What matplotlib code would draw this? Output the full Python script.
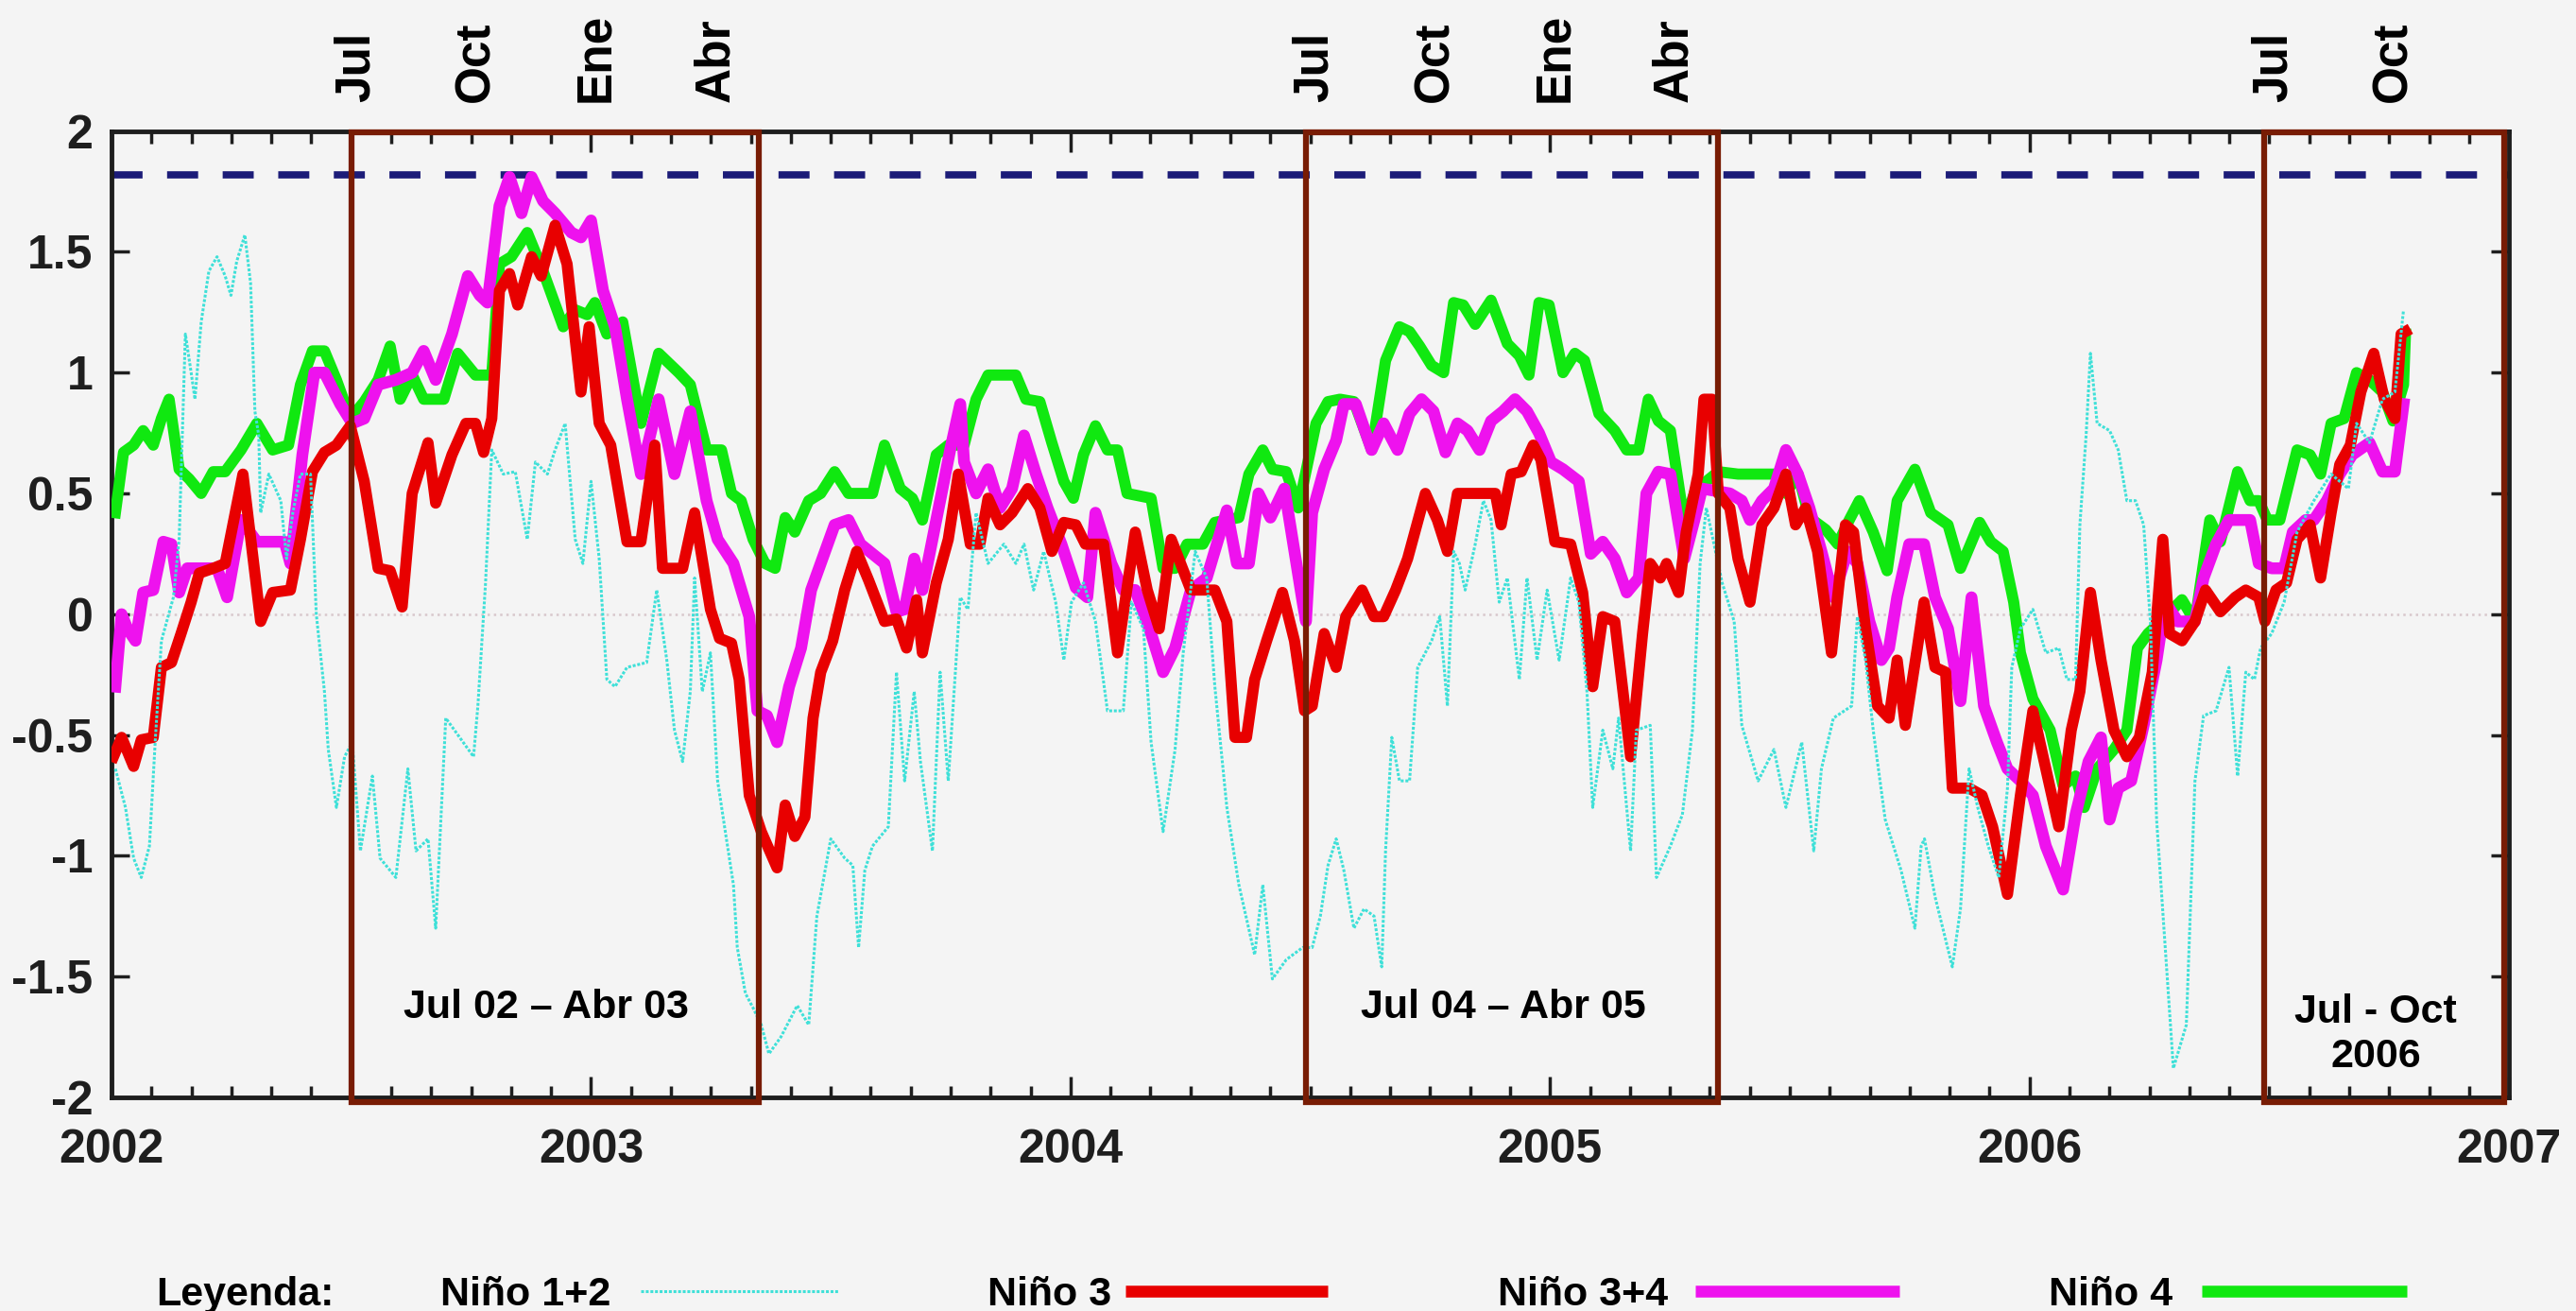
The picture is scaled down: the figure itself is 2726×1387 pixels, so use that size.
import numpy as np
import matplotlib.pyplot as plt
from matplotlib.patches import Rectangle
from matplotlib.lines import Line2D

plt.rcParams['font.family'] = ['Liberation Sans', 'DejaVu Sans']
plt.rcParams['axes.unicode_minus'] = False

# (decimal year, anomaly)
nino12 = [
    (2002.008, -0.64), (2002.029, -0.80), (2002.046, -1.01), (2002.062, -1.09), (2002.079, -0.96),
    (2002.091, -0.53), (2002.104, -0.11), (2002.129, 0.07), (2002.141, 0.31), (2002.154, 1.16),
    (2002.166, 1.00), (2002.174, 0.89), (2002.187, 1.21), (2002.203, 1.42), (2002.220, 1.48),
    (2002.237, 1.40), (2002.249, 1.32), (2002.261, 1.46), (2002.278, 1.57), (2002.290, 1.37),
    (2002.299, 0.84), (2002.307, 0.74), (2002.311, 0.42), (2002.328, 0.58), (2002.353, 0.47),
    (2002.365, 0.23), (2002.378, 0.42), (2002.394, 0.58), (2002.415, 0.58), (2002.427, 0.00),
    (2002.444, -0.32), (2002.452, -0.56), (2002.469, -0.80), (2002.486, -0.59), (2002.502, -0.53),
    (2002.519, -0.98), (2002.544, -0.67), (2002.560, -1.01), (2002.593, -1.09), (2002.618, -0.64),
    (2002.635, -0.98), (2002.660, -0.93), (2002.676, -1.30), (2002.697, -0.43), (2002.726, -0.51),
    (2002.755, -0.59), (2002.764, -0.38), (2002.780, 0.13), (2002.793, 0.68), (2002.817, 0.58),
    (2002.842, 0.59), (2002.867, 0.31), (2002.884, 0.63), (2002.909, 0.58), (2002.925, 0.68),
    (2002.946, 0.79), (2002.967, 0.31), (2002.983, 0.21), (2003.000, 0.55), (2003.017, 0.23),
    (2003.033, -0.27), (2003.050, -0.30), (2003.075, -0.22), (2003.116, -0.20), (2003.137, 0.10),
    (2003.158, -0.19), (2003.174, -0.48), (2003.191, -0.61), (2003.207, -0.32), (2003.216, 0.15),
    (2003.232, -0.32), (2003.249, -0.16), (2003.264, -0.69), (2003.280, -0.90), (2003.297, -1.12),
    (2003.305, -1.38), (2003.322, -1.57), (2003.338, -1.63), (2003.355, -1.70), (2003.371, -1.82),
    (2003.396, -1.75), (2003.430, -1.62), (2003.454, -1.70), (2003.471, -1.25), (2003.500, -0.93),
    (2003.529, -1.01), (2003.546, -1.04), (2003.558, -1.38), (2003.571, -1.06), (2003.587, -0.96),
    (2003.620, -0.88), (2003.637, -0.24), (2003.654, -0.69), (2003.674, -0.32), (2003.687, -0.61),
    (2003.712, -0.98), (2003.728, -0.24), (2003.745, -0.69), (2003.770, 0.07), (2003.786, 0.02),
    (2003.803, 0.42), (2003.828, 0.21), (2003.861, 0.29), (2003.886, 0.21), (2003.903, 0.29),
    (2003.923, 0.10), (2003.944, 0.26), (2003.969, 0.05), (2003.986, -0.19), (2004.002, 0.05),
    (2004.027, 0.13), (2004.052, -0.03), (2004.077, -0.40), (2004.110, -0.40), (2004.127, 0.05),
    (2004.152, -0.06), (2004.168, -0.53), (2004.193, -0.90), (2004.218, -0.56), (2004.235, -0.16),
    (2004.260, 0.26), (2004.284, 0.15), (2004.301, -0.30), (2004.326, -0.80), (2004.351, -1.12),
    (2004.384, -1.41), (2004.401, -1.12), (2004.421, -1.51), (2004.450, -1.43), (2004.484, -1.38),
    (2004.504, -1.38), (2004.521, -1.25), (2004.537, -1.04), (2004.554, -0.93), (2004.570, -1.06),
    (2004.591, -1.30), (2004.612, -1.22), (2004.633, -1.25), (2004.649, -1.46), (2004.657, -0.98),
    (2004.670, -0.51), (2004.686, -0.69), (2004.707, -0.69), (2004.724, -0.22), (2004.753, -0.11),
    (2004.770, -0.01), (2004.786, -0.38), (2004.799, 0.26), (2004.811, 0.21), (2004.823, 0.10),
    (2004.844, 0.29), (2004.861, 0.47), (2004.877, 0.39), (2004.894, 0.05), (2004.911, 0.15),
    (2004.936, -0.27), (2004.952, 0.15), (2004.973, -0.19), (2004.994, 0.10), (2005.019, -0.19),
    (2005.043, 0.15), (2005.060, 0.05), (2005.077, -0.32), (2005.089, -0.80), (2005.110, -0.48),
    (2005.131, -0.64), (2005.143, -0.43), (2005.168, -0.98), (2005.180, -0.48), (2005.209, -0.46),
    (2005.222, -1.09), (2005.251, -0.96), (2005.276, -0.83), (2005.297, -0.48), (2005.313, 0.21),
    (2005.326, 0.44), (2005.359, 0.13), (2005.384, -0.03), (2005.400, -0.46), (2005.434, -0.69),
    (2005.467, -0.56), (2005.492, -0.80), (2005.525, -0.53), (2005.550, -0.98), (2005.566, -0.64),
    (2005.591, -0.43), (2005.629, -0.38), (2005.641, -0.01), (2005.658, -0.19), (2005.674, -0.48),
    (2005.699, -0.85), (2005.732, -1.06), (2005.761, -1.30), (2005.774, -0.96), (2005.781, -0.93),
    (2005.803, -1.17), (2005.839, -1.46), (2005.856, -1.22), (2005.874, -0.64), (2005.892, -0.80),
    (2005.914, -0.96), (2005.936, -1.09), (2005.954, -0.72), (2005.963, -0.22), (2005.981, -0.06),
    (2006.007, 0.02), (2006.034, -0.16), (2006.061, -0.14), (2006.078, -0.27), (2006.096, -0.27),
    (2006.105, 0.37), (2006.118, 0.74), (2006.127, 1.08), (2006.141, 0.79), (2006.167, 0.76),
    (2006.185, 0.68), (2006.203, 0.47), (2006.221, 0.47), (2006.238, 0.37), (2006.252, -0.03),
    (2006.265, -0.85), (2006.283, -1.38), (2006.300, -1.88), (2006.327, -1.70), (2006.345, -0.69),
    (2006.363, -0.42), (2006.389, -0.40), (2006.416, -0.22), (2006.434, -0.67), (2006.451, -0.24),
    (2006.469, -0.27), (2006.482, -0.14), (2006.505, -0.08), (2006.531, 0.05), (2006.558, 0.34),
    (2006.593, 0.47), (2006.629, 0.58), (2006.665, 0.52), (2006.682, 0.79), (2006.709, 0.71),
    (2006.736, 0.89), (2006.762, 0.92), (2006.780, 1.26),
]

nino3 = [
    (2002.004, -0.59), (2002.021, -0.51), (2002.046, -0.63), (2002.062, -0.52), (2002.087, -0.51),
    (2002.104, -0.22), (2002.125, -0.20), (2002.145, -0.08), (2002.166, 0.05), (2002.183, 0.17),
    (2002.212, 0.19), (2002.237, 0.21), (2002.274, 0.58), (2002.311, -0.03), (2002.336, 0.09),
    (2002.373, 0.10), (2002.394, 0.31), (2002.419, 0.59), (2002.444, 0.67), (2002.469, 0.70),
    (2002.498, 0.78), (2002.527, 0.55), (2002.556, 0.19), (2002.581, 0.18), (2002.606, 0.03),
    (2002.627, 0.50), (2002.660, 0.71), (2002.676, 0.46), (2002.710, 0.66), (2002.739, 0.79),
    (2002.759, 0.79), (2002.776, 0.67), (2002.793, 0.81), (2002.809, 1.34), (2002.830, 1.41),
    (2002.847, 1.28), (2002.876, 1.48), (2002.896, 1.40), (2002.925, 1.61), (2002.950, 1.45),
    (2002.979, 0.92), (2002.996, 1.19), (2003.017, 0.79), (2003.041, 0.70), (2003.075, 0.30),
    (2003.104, 0.30), (2003.133, 0.70), (2003.149, 0.19), (2003.191, 0.19), (2003.216, 0.42),
    (2003.249, 0.02), (2003.268, -0.10), (2003.293, -0.12), (2003.309, -0.27), (2003.330, -0.75),
    (2003.355, -0.90), (2003.388, -1.05), (2003.405, -0.79), (2003.425, -0.92), (2003.446, -0.84),
    (2003.463, -0.43), (2003.479, -0.24), (2003.504, -0.11), (2003.529, 0.10), (2003.554, 0.26),
    (2003.579, 0.14), (2003.612, -0.03), (2003.637, -0.02), (2003.658, -0.14), (2003.679, 0.06),
    (2003.691, -0.16), (2003.720, 0.13), (2003.745, 0.31), (2003.766, 0.58), (2003.791, 0.29),
    (2003.811, 0.29), (2003.828, 0.48), (2003.853, 0.37), (2003.878, 0.42), (2003.911, 0.52),
    (2003.936, 0.44), (2003.961, 0.26), (2003.986, 0.38), (2004.011, 0.37), (2004.031, 0.29),
    (2004.069, 0.29), (2004.098, -0.16), (2004.135, 0.34), (2004.160, 0.10), (2004.185, -0.06),
    (2004.210, 0.31), (2004.251, 0.10), (2004.301, 0.10), (2004.326, -0.03), (2004.343, -0.51),
    (2004.367, -0.51), (2004.384, -0.27), (2004.409, -0.11), (2004.442, 0.09), (2004.467, -0.11),
    (2004.488, -0.40), (2004.504, -0.38), (2004.529, -0.08), (2004.554, -0.22), (2004.574, -0.01),
    (2004.608, 0.10), (2004.633, -0.01), (2004.653, -0.01), (2004.678, 0.10), (2004.703, 0.23),
    (2004.740, 0.50), (2004.765, 0.39), (2004.786, 0.26), (2004.807, 0.50), (2004.886, 0.50),
    (2004.898, 0.37), (2004.919, 0.58), (2004.940, 0.59), (2004.965, 0.70), (2004.981, 0.64),
    (2005.010, 0.30), (2005.043, 0.29), (2005.068, 0.09), (2005.089, -0.30), (2005.110, -0.01),
    (2005.135, -0.03), (2005.168, -0.59), (2005.193, -0.08), (2005.209, 0.21), (2005.230, 0.15),
    (2005.243, 0.21), (2005.268, 0.09), (2005.284, 0.34), (2005.309, 0.58), (2005.321, 0.89),
    (2005.338, 0.89), (2005.351, 0.50), (2005.375, 0.44), (2005.392, 0.23), (2005.417, 0.05),
    (2005.442, 0.37), (2005.467, 0.44), (2005.492, 0.58), (2005.512, 0.37), (2005.533, 0.44),
    (2005.558, 0.26), (2005.587, -0.16), (2005.616, 0.37), (2005.633, 0.34), (2005.658, -0.06),
    (2005.683, -0.38), (2005.707, -0.43), (2005.724, -0.19), (2005.741, -0.46), (2005.766, -0.14),
    (2005.780, 0.05), (2005.803, -0.22), (2005.825, -0.24), (2005.839, -0.72), (2005.874, -0.72),
    (2005.901, -0.75), (2005.923, -0.88), (2005.954, -1.16), (2005.981, -0.75), (2006.007, -0.40),
    (2006.034, -0.64), (2006.061, -0.88), (2006.087, -0.48), (2006.105, -0.32), (2006.127, 0.09),
    (2006.149, -0.19), (2006.176, -0.48), (2006.203, -0.59), (2006.229, -0.51), (2006.256, -0.24),
    (2006.278, 0.31), (2006.292, -0.08), (2006.318, -0.11), (2006.345, -0.03), (2006.367, 0.10),
    (2006.398, 0.01), (2006.429, 0.07), (2006.451, 0.10), (2006.478, 0.07), (2006.491, -0.03),
    (2006.514, 0.10), (2006.536, 0.13), (2006.558, 0.31), (2006.585, 0.37), (2006.607, 0.15),
    (2006.629, 0.42), (2006.647, 0.62), (2006.669, 0.70), (2006.691, 0.92), (2006.718, 1.08),
    (2006.740, 0.89), (2006.762, 0.81), (2006.775, 1.16), (2006.784, 1.17),
]

nino34 = [
    (2002.008, -0.30), (2002.021, 0.00), (2002.033, -0.06), (2002.050, -0.11), (2002.066, 0.09),
    (2002.087, 0.10), (2002.108, 0.30), (2002.125, 0.29), (2002.141, 0.09), (2002.158, 0.19),
    (2002.220, 0.19), (2002.241, 0.07), (2002.270, 0.39), (2002.303, 0.30), (2002.361, 0.30),
    (2002.373, 0.21), (2002.398, 0.66), (2002.423, 1.00), (2002.444, 1.00), (2002.477, 0.87),
    (2002.502, 0.79), (2002.527, 0.81), (2002.556, 0.95), (2002.593, 0.97), (2002.627, 1.00),
    (2002.651, 1.09), (2002.676, 0.97), (2002.710, 1.16), (2002.743, 1.40), (2002.768, 1.32),
    (2002.784, 1.29), (2002.809, 1.69), (2002.830, 1.81), (2002.855, 1.66), (2002.876, 1.81),
    (2002.900, 1.71), (2002.925, 1.66), (2002.959, 1.58), (2002.979, 1.56), (2003.000, 1.63),
    (2003.025, 1.34), (2003.050, 1.19), (2003.075, 0.89), (2003.104, 0.58), (2003.141, 0.89),
    (2003.174, 0.58), (2003.207, 0.84), (2003.241, 0.47), (2003.264, 0.31), (2003.297, 0.21),
    (2003.330, -0.01), (2003.347, -0.40), (2003.367, -0.42), (2003.388, -0.53), (2003.413, -0.30),
    (2003.438, -0.14), (2003.459, 0.10), (2003.488, 0.26), (2003.508, 0.37), (2003.537, 0.39),
    (2003.562, 0.29), (2003.612, 0.21), (2003.637, 0.01), (2003.654, 0.02), (2003.674, 0.23),
    (2003.691, 0.10), (2003.720, 0.39), (2003.749, 0.68), (2003.770, 0.87), (2003.778, 0.63),
    (2003.803, 0.50), (2003.828, 0.60), (2003.853, 0.44), (2003.878, 0.52), (2003.903, 0.74),
    (2003.928, 0.58), (2003.952, 0.44), (2003.981, 0.29), (2004.011, 0.11), (2004.035, 0.07),
    (2004.052, 0.42), (2004.085, 0.21), (2004.110, 0.10), (2004.135, 0.10), (2004.168, -0.08),
    (2004.193, -0.24), (2004.218, -0.14), (2004.251, 0.10), (2004.284, 0.15), (2004.326, 0.43),
    (2004.347, 0.21), (2004.372, 0.21), (2004.392, 0.50), (2004.417, 0.40), (2004.446, 0.52),
    (2004.467, 0.26), (2004.484, 0.05), (2004.491, -0.03), (2004.504, 0.42), (2004.529, 0.60),
    (2004.554, 0.72), (2004.570, 0.87), (2004.595, 0.87), (2004.628, 0.68), (2004.653, 0.79),
    (2004.682, 0.68), (2004.707, 0.83), (2004.732, 0.89), (2004.757, 0.84), (2004.782, 0.67),
    (2004.807, 0.79), (2004.828, 0.76), (2004.853, 0.68), (2004.877, 0.80), (2004.902, 0.84),
    (2004.927, 0.89), (2004.952, 0.84), (2004.977, 0.75), (2005.002, 0.63), (2005.027, 0.60),
    (2005.060, 0.55), (2005.085, 0.25), (2005.110, 0.30), (2005.135, 0.23), (2005.160, 0.09),
    (2005.185, 0.15), (2005.201, 0.50), (2005.226, 0.59), (2005.251, 0.58), (2005.280, 0.23),
    (2005.301, 0.39), (2005.317, 0.52), (2005.375, 0.50), (2005.400, 0.47), (2005.417, 0.39),
    (2005.442, 0.47), (2005.467, 0.52), (2005.492, 0.68), (2005.517, 0.58), (2005.541, 0.44),
    (2005.566, 0.26), (2005.591, 0.07), (2005.620, 0.26), (2005.641, 0.21), (2005.666, -0.03),
    (2005.691, -0.19), (2005.707, -0.14), (2005.724, 0.07), (2005.749, 0.29), (2005.780, 0.29),
    (2005.803, 0.07), (2005.830, -0.06), (2005.856, -0.36), (2005.879, 0.07), (2005.905, -0.38),
    (2005.932, -0.53), (2005.954, -0.64), (2005.981, -0.69), (2006.007, -0.75), (2006.034, -0.96),
    (2006.070, -1.14), (2006.096, -0.83), (2006.123, -0.61), (2006.149, -0.51), (2006.167, -0.85),
    (2006.185, -0.72), (2006.212, -0.69), (2006.238, -0.46), (2006.265, -0.19), (2006.283, 0.05),
    (2006.309, -0.03), (2006.345, -0.03), (2006.363, 0.15), (2006.389, 0.29), (2006.416, 0.39),
    (2006.460, 0.39), (2006.478, 0.21), (2006.505, 0.19), (2006.531, 0.19), (2006.549, 0.34),
    (2006.576, 0.39), (2006.593, 0.39), (2006.620, 0.47), (2006.647, 0.58), (2006.673, 0.66),
    (2006.709, 0.71), (2006.736, 0.59), (2006.762, 0.59), (2006.780, 0.87),
]

nino4 = [
    (2002.008, 0.42), (2002.025, 0.67), (2002.046, 0.70), (2002.066, 0.76), (2002.087, 0.70),
    (2002.104, 0.81), (2002.120, 0.89), (2002.141, 0.60), (2002.162, 0.56), (2002.187, 0.50),
    (2002.212, 0.59), (2002.237, 0.59), (2002.270, 0.68), (2002.303, 0.79), (2002.336, 0.68),
    (2002.369, 0.70), (2002.394, 0.95), (2002.419, 1.09), (2002.444, 1.09), (2002.469, 0.97),
    (2002.498, 0.81), (2002.527, 0.88), (2002.556, 0.97), (2002.581, 1.11), (2002.602, 0.89),
    (2002.627, 0.99), (2002.651, 0.89), (2002.693, 0.89), (2002.722, 1.08), (2002.759, 0.99),
    (2002.793, 0.99), (2002.809, 1.45), (2002.834, 1.48), (2002.867, 1.58), (2002.900, 1.42),
    (2002.942, 1.19), (2002.967, 1.26), (2002.992, 1.24), (2003.008, 1.29), (2003.033, 1.16),
    (2003.066, 1.21), (2003.104, 0.79), (2003.141, 1.08), (2003.183, 1.00), (2003.207, 0.95),
    (2003.241, 0.68), (2003.272, 0.68), (2003.293, 0.50), (2003.313, 0.47), (2003.338, 0.31),
    (2003.363, 0.21), (2003.384, 0.19), (2003.405, 0.40), (2003.425, 0.34), (2003.454, 0.47),
    (2003.479, 0.50), (2003.508, 0.59), (2003.537, 0.50), (2003.587, 0.50), (2003.612, 0.70),
    (2003.645, 0.52), (2003.670, 0.48), (2003.691, 0.39), (2003.720, 0.66), (2003.745, 0.70),
    (2003.778, 0.70), (2003.803, 0.89), (2003.828, 0.99), (2003.886, 0.99), (2003.907, 0.89),
    (2003.936, 0.88), (2003.961, 0.71), (2003.986, 0.55), (2004.006, 0.48), (2004.027, 0.66),
    (2004.052, 0.78), (2004.077, 0.68), (2004.098, 0.68), (2004.118, 0.50), (2004.168, 0.48),
    (2004.193, 0.19), (2004.218, 0.19), (2004.243, 0.29), (2004.276, 0.29), (2004.301, 0.38),
    (2004.351, 0.40), (2004.372, 0.58), (2004.401, 0.68), (2004.421, 0.60), (2004.450, 0.59),
    (2004.475, 0.44), (2004.512, 0.79), (2004.537, 0.88), (2004.562, 0.89), (2004.591, 0.88),
    (2004.628, 0.68), (2004.657, 1.05), (2004.686, 1.19), (2004.707, 1.17), (2004.728, 1.11),
    (2004.753, 1.03), (2004.778, 1.00), (2004.799, 1.29), (2004.819, 1.28), (2004.844, 1.20),
    (2004.877, 1.30), (2004.911, 1.12), (2004.936, 1.07), (2004.956, 0.99), (2004.977, 1.29),
    (2004.998, 1.28), (2005.027, 1.00), (2005.052, 1.08), (2005.072, 1.05), (2005.102, 0.83),
    (2005.135, 0.76), (2005.160, 0.68), (2005.185, 0.68), (2005.205, 0.89), (2005.226, 0.80),
    (2005.251, 0.76), (2005.280, 0.38), (2005.301, 0.50), (2005.326, 0.55), (2005.351, 0.59),
    (2005.392, 0.58), (2005.467, 0.58), (2005.492, 0.50), (2005.517, 0.58), (2005.541, 0.40),
    (2005.575, 0.35), (2005.600, 0.29), (2005.624, 0.39), (2005.645, 0.47), (2005.674, 0.34),
    (2005.703, 0.18), (2005.724, 0.47), (2005.761, 0.60), (2005.794, 0.42), (2005.830, 0.37),
    (2005.856, 0.19), (2005.896, 0.38), (2005.919, 0.30), (2005.945, 0.26), (2005.967, 0.05),
    (2005.981, -0.16), (2006.007, -0.35), (2006.043, -0.48), (2006.070, -0.71), (2006.096, -0.67),
    (2006.114, -0.80), (2006.141, -0.64), (2006.176, -0.56), (2006.203, -0.48), (2006.225, -0.14),
    (2006.247, -0.08), (2006.274, -0.03), (2006.318, 0.06), (2006.345, -0.03), (2006.376, 0.39),
    (2006.398, 0.30), (2006.434, 0.59), (2006.460, 0.47), (2006.478, 0.47), (2006.496, 0.39),
    (2006.522, 0.39), (2006.558, 0.68), (2006.585, 0.66), (2006.607, 0.58), (2006.629, 0.79),
    (2006.656, 0.81), (2006.682, 1.00), (2006.709, 0.97), (2006.736, 0.92), (2006.758, 0.80),
    (2006.780, 0.95), (2006.784, 1.16),
]

umbral = 1.82
periodos = [(2002.5, 2003.35), (2004.49, 2005.35), (2006.49, 2006.99)]
periodo_labels = ['Jul 02 \u2013 Abr 03', 'Jul 04 \u2013 Abr 05', 'Jul - Oct\n2006']
meses = [(2002.5, 'Jul'), (2002.75, 'Oct'), (2003.0, 'Ene'), (2003.25, 'Abr'),
         (2004.5, 'Jul'), (2004.75, 'Oct'), (2005.0, 'Ene'), (2005.25, 'Abr'),
         (2006.5, 'Jul'), (2006.75, 'Oct')]
years = [2002, 2003, 2004, 2005, 2006, 2007]
yticks = [2, 1.5, 1, 0.5, 0, -0.5, -1, -1.5, -2]
ytick_labels = ['2', '1.5', '1', '0.5', '0', '-0.5', '-1', '-1.5', '-2']

bg = '#f4f4f4'
c12, c3, c34, c4 = '#3fe0d8', '#e80000', '#ee12ee', '#10e810'
box_color = '#781c04'

fig = plt.figure(figsize=(27.26, 13.87), dpi=100, facecolor=bg)
ax = fig.add_axes([0.0433, 0.163, 0.9307, 0.737], facecolor=bg)

ax.axhline(0, color='#d8c8cc', lw=1.8, ls=':', zorder=1)
ax.axhline(umbral, color='#1c1c78', lw=5.5, dashes=(4.3, 3.4), zorder=2)

t4, v4 = np.array(nino4).T
t34, v34 = np.array(nino34).T
t3, v3 = np.array(nino3).T
t12, v12 = np.array(nino12).T
ax.plot(t4, v4, color=c4, lw=8.5, zorder=3, solid_joinstyle='round')
ax.plot(t34, v34, color=c34, lw=9, zorder=4, solid_joinstyle='round')
ax.plot(t3, v3, color=c3, lw=8.5, zorder=5, solid_joinstyle='round')
ax.plot(t12, v12, color=c12, lw=2.2, ls=(0, (1, 0.6)), zorder=6)

for (x0, x1), lab in zip(periodos, periodo_labels):
    ax.add_patch(Rectangle((x0, -2.02), x1 - x0, 4.015, fill=False, ec=box_color,
                           lw=4.5, zorder=7, clip_on=False))
    two = '\n' in lab
    ax.text((x0 + x1) / 2 - 0.018, -1.74 if two else -1.63, lab,
            ha='center', va='center', fontsize=31, fontweight='bold',
            linespacing=1.25 if two else 1.0, zorder=8)

for x, m in meses:
    ax.text(x + 0.01, 1.03, m, transform=ax.get_xaxis_transform(), rotation=90,
            ha='center', va='bottom', fontsize=37, fontweight='bold')

ax.set_xlim(2002, 2007)
ax.set_ylim(-2, 2)
ax.set_xticks(years)
ax.set_xticklabels([str(y) for y in years])
ax.set_xticks(np.arange(2002, 2007, 1 / 12), minor=True)
ax.set_yticks(yticks)
ax.set_yticklabels(ytick_labels)
ax.tick_params(axis='both', which='both', direction='in', top=True, right=True,
               colors='#1e1e1e', width=2.5)
ax.tick_params(axis='x', which='major', length=16, pad=24, labelsize=36)
ax.tick_params(axis='x', which='minor', length=9)
ax.tick_params(axis='y', which='major', length=14, pad=14, labelsize=36)
for lab in ax.get_xticklabels() + ax.get_yticklabels():
    lab.set_fontweight('bold')
for sp in ax.spines.values():
    sp.set_linewidth(3.5)
    sp.set_color('#1e1e1e')

# legend row along the bottom edge
W, H = 2726.0, 1387.0
ty = 6 / H
ly = 21 / H
fig.text(165 / W, ty, 'Leyenda:', fontsize=31, fontweight='bold', va='baseline')
entries = [('Ni\u00f1o 1+2', 466, 678, 887, c12, 2.2, (0, (1, 0.6))),
           ('Ni\u00f1o 3', 1045, 1191, 1405, c3, 9, '-'),
           ('Ni\u00f1o 3+4', 1585, 1794, 2010, c34, 9, '-'),
           ('Ni\u00f1o 4', 2168, 2330, 2547, c4, 9, '-')]
for name, tx, x0, x1, col, lw, ls in entries:
    fig.text(tx / W, ty, name, fontsize=31, fontweight='bold', va='baseline')
    fig.add_artist(Line2D([x0 / W, x1 / W], [ly, ly], color=col, lw=lw, ls=ls,
                          solid_capstyle='butt'))

fig.savefig('out.png', dpi=100, facecolor=bg)
